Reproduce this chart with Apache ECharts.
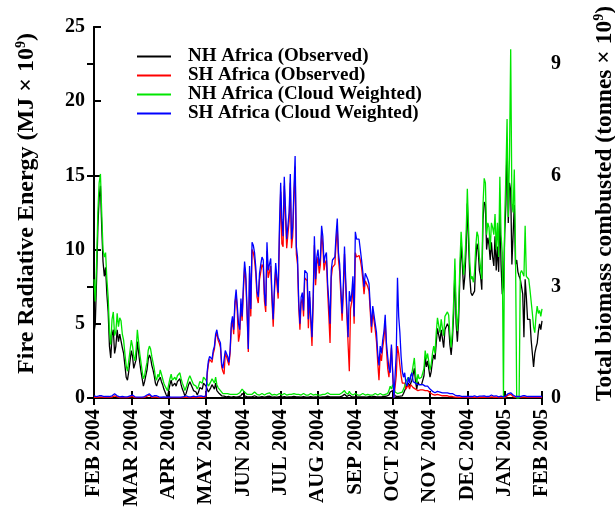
<!DOCTYPE html>
<html><head><meta charset="utf-8">
<script src="https://cdn.jsdelivr.net/npm/echarts@6/dist/echarts.min.js"></script>
<style>html,body{margin:0;padding:0;background:#fff}#c{width:615px;height:510px}</style>
</head><body><div id="c"></div>
<script>
// Daily values starting 1 Feb 2004 (index 0) through 1 Feb 2005 (index 366)
const tickLabels = ['FEB 2004','MAR 2004','APR 2004','MAY 2004','JUN 2004','JUL 2004','AUG 2004','SEP 2004','OCT 2004','NOV 2004','DEC 2004','JAN 2005','FEB 2005'];
const seriesNames = ['NH Africa (Observed)','SH Africa (Observed)','NH Africa (Cloud Weighted)','SH Africa (Cloud Weighted)'];

const nhObserved = [
4.4,5.0,8.0,11.5,13.5,14.3,11.5,9.2,8.2,8.8,
7.0,5.8,3.5,2.7,4.2,4.6,3.0,3.5,4.6,3.8,
4.3,4.2,3.4,3.0,2.2,1.4,1.2,1.8,2.5,3.2,
2.8,2.0,1.9,2.6,3.8,3.1,2.4,1.8,1.3,0.8,
1.1,1.5,1.9,2.6,2.9,2.7,2.2,1.9,1.5,1.0,
0.8,1.1,1.0,1.4,1.1,0.9,0.6,0.4,0.2,0.05,
0.5,0.9,1.2,0.8,0.7,1.0,0.8,1.1,1.0,1.3,
0.9,0.6,0.4,0.15,0.3,0.6,0.9,1.1,1.0,0.7,
0.5,0.6,0.4,0.2,0.4,0.7,0.8,0.6,1.0,1.1,
0.8,0.6,0.4,0.4,0.7,0.9,1.0,0.6,1.0,0.5,
0.4,0.3,0.2,0.15,0.1,0.12,0.1,0.08,0.1,0.1,
0.08,0.06,0.08,0.1,0.08,0.06,0.08,0.1,0.12,0.15,
0.3,0.35,0.15,0.1,0.08,0.06,0.08,0.1,0.08,0.1,
0.15,0.1,0.08,0.06,0.06,0.08,0.1,0.08,0.06,0.08,
0.1,0.08,0.12,0.1,0.06,0.06,0.08,0.1,0.06,0.08,
0.1,0.08,0.06,0.08,0.1,0.08,0.06,0.06,0.08,0.1,
0.08,0.06,0.1,0.12,0.08,0.06,0.08,0.06,0.06,0.08,
0.1,0.08,0.06,0.08,0.06,0.08,0.1,0.08,0.06,0.06,
0.08,0.1,0.06,0.08,0.06,0.06,0.08,0.1,0.08,0.06,
0.12,0.1,0.08,0.06,0.08,0.06,0.08,0.1,0.08,0.1,
0.08,0.1,0.12,0.2,0.25,0.12,0.1,0.08,0.2,0.1,
0.08,0.06,0.08,0.1,0.08,0.06,0.08,0.06,0.08,0.1,
0.08,0.06,0.06,0.08,0.1,0.06,0.08,0.06,0.1,0.1,
0.08,0.06,0.08,0.1,0.08,0.06,0.1,0.08,0.12,0.1,
0.2,0.4,0.3,0.5,0.6,0.15,0.1,0.1,0.1,0.12,
0.1,0.15,0.3,0.5,0.7,0.8,1.0,0.8,1.0,1.2,
1.1,2.0,1.1,0.6,1.1,0.9,1.0,0.9,0.9,1.5,
2.8,2.1,2.5,2.6,1.4,1.8,2.5,2.9,2.6,3.7,
4.7,4.6,3.8,4.6,4.0,3.4,4.6,4.8,5.0,4.8,
3.6,2.9,3.9,5.7,8.6,5.0,3.8,5.2,8.2,10.4,
9.0,7.3,8.2,10.0,13.1,10.5,8.2,7.1,6.9,6.9,
7.2,9.2,10.4,10.0,8.6,8.2,7.3,12.0,13.2,13.0,
10.0,10.8,10.3,9.3,10.5,9.5,8.9,10.9,8.6,10.2,
8.5,12.5,9.0,7.0,7.5,11.0,13.0,17.4,11.8,14.5,
14.0,9.0,11.0,13.0,9.0,9.3,8.5,8.2,8.0,7.5,
7.0,4.1,8.0,6.8,5.3,5.3,5.3,3.9,3.0,2.1,
3.0,3.4,3.7,4.5,5.0,4.6,5.2
];

const shObserved = [
0.05,0.05,0.04,0.05,0.06,0.1,0.06,0.04,0.04,0.05,
0.04,0.03,0.04,0.05,0.06,0.1,0.15,0.18,0.08,0.04,
0.03,0.03,0.04,0.04,0.03,0.02,0.03,0.04,0.08,0.15,
0.1,0.04,0.03,0.02,0.02,0.03,0.02,0.02,0.02,0.03,
0.04,0.06,0.12,0.22,0.2,0.08,0.04,0.05,0.06,0.1,
0.06,0.04,0.03,0.02,0.02,0.02,0.03,0.02,0.02,0.02,
0.03,0.04,0.02,0.02,0.02,0.03,0.02,0.02,0.02,0.02,
0.02,0.03,0.04,0.05,0.06,0.05,0.03,0.02,0.03,0.04,
0.05,0.04,0.03,0.04,0.05,0.04,0.06,0.05,0.04,0.05,
0.1,1.6,2.3,2.6,2.5,2.4,3.0,3.3,4.1,4.4,
3.9,3.7,3.4,2.1,1.8,1.6,3.0,2.8,2.5,2.2,
3.0,4.7,5.2,4.3,6.2,7.0,5.8,3.8,4.3,6.3,
5.2,7.1,8.8,7.9,5.6,3.1,8.4,5.5,10.0,9.8,
9.3,8.4,6.8,6.4,8.0,8.5,9.0,8.8,6.5,5.8,
9.9,8.1,8.5,8.9,6.6,4.8,7.1,8.6,8.6,6.7,
10.8,13.9,10.4,10.2,14.3,14.2,10.1,10.0,11.9,14.5,
10.1,10.9,13.4,15.6,9.7,9.0,6.1,4.6,6.4,6.7,
5.5,8.1,8.0,7.9,4.7,6.8,5.1,3.5,6.4,10.3,
7.6,9.0,9.5,8.4,9.0,11.0,10.3,8.6,9.1,9.3,
7.2,5.5,3.7,8.1,8.8,8.7,9.0,10.4,11.5,9.3,
8.5,8.4,5.2,7.0,9.7,7.5,5.5,3.6,1.8,6.0,
6.5,7.7,5.0,9.8,9.5,9.4,9.6,9.3,8.8,8.0,
7.0,7.9,7.9,7.5,7.2,5.8,4.4,5.8,5.8,4.6,
3.8,2.4,1.2,3.0,2.5,3.4,4.0,5.2,3.3,2.0,
1.4,1.3,3.4,3.4,0,0,1.5,3.5,3.0,2.2,
1.5,1.0,0.9,1.0,0.6,0.5,0.9,0.6,0.9,1.0,
0.7,0.7,0.6,0.7,0.5,0.6,0.55,0.5,0.55,0.5,
0.5,0.55,0.5,0.45,0.35,0.3,0.25,0.2,0.2,0.2,
0.25,0.2,0.2,0.15,0.15,0.2,0.15,0.12,0.15,0.1,
0.1,0.08,0.1,0.08,0.06,0.06,0.05,0.05,0.04,0.04,
0.04,0.05,0.04,0.03,0.04,0.05,0.04,0.03,0.04,0.05,
0.06,0.04,0.03,0.04,0.05,0.06,0.05,0.04,0.06,0.05,
0.04,0.03,0.04,0.06,0.08,0.06,0.05,0.08,0.06,0.04,
0.03,0.04,0.05,0.04,0.03,0.04,0.06,0.1,0.2,0.25,
0.25,0.2,0.1,0.05,0.04,0.03,0.04,0.05,0.04,0.05,
0.06,0.08,0.06,0.05,0.04,0.03,0.04,0.05,0.04,0.03,
0.04,0.05,0.04,0.03,0.04,0.03,0.04
];

const nhCloudWeighted = [
8.0,6.5,9.0,12.5,14.5,15.1,12.5,10.0,9.5,9.8,
8.0,6.8,4.5,3.6,5.3,5.8,4.2,4.5,5.7,4.8,
5.4,5.2,4.3,3.9,3.0,2.2,1.8,2.5,3.2,3.9,
3.5,2.8,2.5,3.3,4.6,3.8,3.0,2.4,1.8,1.3,
1.5,2.0,2.4,3.2,3.5,3.3,2.8,2.4,2.0,1.4,
1.2,1.6,1.4,1.9,1.6,1.3,1.0,0.8,0.7,0.5,
0.9,1.3,1.6,1.2,1.1,1.4,1.2,1.5,1.4,1.7,
1.3,1.0,0.8,0.5,0.7,1.0,1.3,1.5,1.4,1.1,
0.9,1.0,0.8,0.6,0.8,1.1,1.2,1.0,1.4,1.5,
1.2,1.0,0.8,0.8,1.1,1.3,1.4,1.0,1.4,0.9,
0.7,0.6,0.5,0.4,0.3,0.35,0.3,0.25,0.3,0.25,
0.25,0.2,0.25,0.3,0.25,0.2,0.25,0.3,0.35,0.4,
0.6,0.65,0.4,0.3,0.25,0.2,0.25,0.3,0.25,0.3,
0.4,0.3,0.25,0.2,0.2,0.25,0.3,0.25,0.2,0.25,
0.3,0.25,0.35,0.3,0.2,0.2,0.25,0.3,0.2,0.25,
0.3,0.25,0.2,0.25,0.3,0.25,0.2,0.2,0.25,0.3,
0.25,0.2,0.3,0.35,0.25,0.2,0.25,0.2,0.2,0.25,
0.3,0.25,0.2,0.25,0.2,0.25,0.3,0.25,0.2,0.2,
0.25,0.3,0.2,0.25,0.2,0.2,0.25,0.3,0.25,0.2,
0.35,0.3,0.25,0.2,0.25,0.2,0.25,0.3,0.25,0.3,
0.25,0.3,0.35,0.45,0.5,0.35,0.3,0.25,0.45,0.3,
0.25,0.2,0.25,0.3,0.25,0.2,0.25,0.2,0.25,0.3,
0.25,0.2,0.2,0.25,0.3,0.2,0.25,0.2,0.3,0.3,
0.25,0.2,0.25,0.3,0.25,0.2,0.3,0.25,0.35,0.3,
0.5,0.8,0.6,0.9,1.0,0.4,0.3,0.3,0.3,0.35,
0.3,0.4,0.6,0.8,1.1,1.2,1.4,1.2,1.5,1.7,
1.6,2.7,1.6,1.0,1.6,1.3,1.4,1.4,1.3,2.0,
3.2,2.6,3.0,3.1,1.9,2.3,3.0,3.5,3.0,4.4,
5.4,5.3,4.4,5.3,4.7,4.2,5.5,5.6,5.8,5.6,
4.3,3.4,4.5,6.5,9.4,6.0,4.5,6.0,9.0,11.2,
9.8,8.3,9.2,11.0,14.1,11.5,9.2,8.0,8.2,7.8,
8.5,10.2,11.2,10.9,9.5,8.8,8.0,13.0,14.8,14.5,
11.0,11.8,11.5,10.0,11.8,11.5,11.0,12.4,10.0,11.8,
9.5,14.9,11.0,9.8,0,12.0,15.0,18.8,12.2,16.3,
23.5,13.1,12.5,15.4,9.8,0,0,0,8.4,8.6,
8.4,8.2,11.6,8.2,8.2,8.0,7.3,6.5,5.7,4.8,
4.4,5.5,6.2,5.7,5.9,5.5,6.0
];

const shCloudWeighted = [
0.15,0.12,0.1,0.12,0.15,0.2,0.15,0.1,0.1,0.12,
0.1,0.08,0.1,0.12,0.15,0.2,0.28,0.3,0.15,0.1,
0.08,0.08,0.1,0.1,0.08,0.06,0.08,0.1,0.15,0.25,
0.2,0.1,0.08,0.06,0.06,0.08,0.06,0.05,0.06,0.08,
0.1,0.12,0.2,0.3,0.28,0.15,0.1,0.12,0.15,0.2,
0.15,0.1,0.08,0.06,0.05,0.06,0.08,0.06,0.05,0.06,
0.08,0.1,0.06,0.05,0.06,0.08,0.06,0.05,0.06,0.05,
0.06,0.08,0.1,0.12,0.15,0.12,0.08,0.06,0.08,0.1,
0.12,0.1,0.08,0.1,0.12,0.1,0.15,0.12,0.1,0.12,
0.15,1.8,2.5,2.8,2.7,2.6,3.2,3.5,4.3,4.6,
4.1,4.0,3.7,2.3,2.0,1.9,3.2,3.0,2.8,2.4,
3.2,5.0,5.5,4.6,6.5,7.3,6.2,5.0,4.6,6.7,
5.5,7.5,9.2,8.3,6.0,3.3,8.9,6.0,10.5,10.3,
9.8,8.8,7.2,6.8,8.4,9.0,9.5,9.3,7.0,6.2,
10.5,8.6,9.0,9.4,7.0,5.3,7.5,9.1,9.1,7.1,
11.5,14.5,12.0,10.9,14.9,14.9,10.7,10.7,12.5,15.1,
10.7,11.5,14.0,16.3,10.2,9.5,6.5,5.0,6.8,7.1,
5.9,8.6,8.5,8.4,5.3,7.2,5.5,4.1,6.8,10.9,
8.0,9.5,10.0,8.9,9.5,11.6,10.9,9.1,9.6,9.8,
7.7,6.5,5.0,8.6,9.3,9.2,9.5,11.0,12.1,9.8,
9.0,8.9,5.7,7.5,10.2,8.0,6.0,4.1,7.2,6.5,
7.0,8.2,5.5,11.2,10.7,10.6,10.7,10.0,9.3,8.5,
7.5,8.4,8.4,8.0,7.7,6.2,4.8,6.2,6.3,5.0,
4.4,3.0,2.2,3.5,3.0,3.9,4.5,5.6,3.7,2.8,
2.0,1.7,3.6,3.6,0,0,3.0,8.1,5.5,4.4,
2.8,1.8,1.4,1.7,1.0,0.8,1.4,1.0,1.5,1.7,
1.1,1.2,1.0,1.1,0.9,1.0,0.9,0.8,0.9,0.8,
0.8,0.9,0.8,0.7,0.6,0.5,0.45,0.4,0.35,0.4,
0.45,0.4,0.4,0.35,0.35,0.4,0.35,0.3,0.35,0.3,
0.3,0.25,0.3,0.25,0.2,0.2,0.15,0.2,0.15,0.12,
0.1,0.12,0.1,0.08,0.1,0.12,0.1,0.08,0.1,0.12,
0.15,0.1,0.08,0.1,0.12,0.15,0.12,0.1,0.15,0.12,
0.1,0.08,0.1,0.15,0.2,0.15,0.12,0.2,0.15,0.1,
0.08,0.1,0.12,0.1,0.08,0.1,0.15,0.2,0.3,0.35,
0.35,0.3,0.2,0.12,0.1,0.08,0.1,0.12,0.1,0.12,
0.15,0.2,0.15,0.12,0.1,0.08,0.1,0.12,0.1,0.08,
0.1,0.12,0.1,0.08,0.1,0.08,0.1
];

// position on a month-uniform axis (0 = 1 Feb 2004, 12 = 1 Feb 2005)
function monthPos(dayIndex) {
  const dt = new Date(Date.UTC(2004, 1, 1 + dayIndex));
  const y = dt.getUTCFullYear(), m = dt.getUTCMonth(), d = dt.getUTCDate();
  const dim = new Date(Date.UTC(y, m + 1, 0)).getUTCDate();
  return (y - 2004) * 12 + m - 1 + (d - 1) / dim;
}
const toPairs = arr => arr.map((v, i) => [monthPos(i), v]);

const FONT = '"Liberation Serif","Times New Roman",serif';
const frame = { show: true, lineStyle: { color: '#000', width: 2 } };
const ticks = { show: true, inside: true, length: 7, lineStyle: { color: '#000', width: 2 } };
const supStyle = { fontFamily: FONT, fontWeight: 'bold', fontSize: 14, color: '#000', verticalAlign: 'top', lineHeight: 14 };

const chart = echarts.init(document.getElementById('c'), null, { renderer: 'canvas' });
chart.setOption({
  animation: false,
  backgroundColor: '#fff',
  grid: { left: 94, right: 73, top: 27, bottom: 112, outerBoundsMode: 'none' },
  legend: {
    orient: 'vertical', left: 137, top: 47, padding: 0,
    itemWidth: 34, itemHeight: 2, itemGap: 0, icon: 'rect',
    data: seriesNames,
    textStyle: { fontFamily: FONT, fontWeight: 'bold', fontSize: 19, color: '#000', lineHeight: 16.7, padding: [0, 0, 0, 12] }
  },
  xAxis: [
    { type: 'value', min: 0, max: 12, interval: 1, position: 'bottom',
      axisLine: frame, axisTick: ticks, splitLine: { show: false },
      axisLabel: { rotate: 90, margin: 11, fontFamily: FONT, fontWeight: 'bold', fontSize: 21, color: '#000',
        formatter: v => tickLabels[Math.round(v)] } },
    { type: 'value', min: 0, max: 12, interval: 1, position: 'top',
      axisLine: frame, axisTick: ticks, splitLine: { show: false }, axisLabel: { show: false } }
  ],
  yAxis: [
    { type: 'value', min: 0, max: 25, interval: 5, position: 'left',
      axisLine: frame, axisTick: ticks, splitLine: { show: false },
      axisLabel: { margin: 9, fontFamily: FONT, fontWeight: 'bold', fontSize: 20, color: '#000' },
      name: 'Fire Radiative Energy (MJ × 10{sup|9})', nameLocation: 'middle', nameRotate: 90, nameGap: 54,
      nameTextStyle: { fontFamily: FONT, fontWeight: 'bold', fontSize: 24, color: '#000', lineHeight: 26, padding: [0, 0, 0, 18], rich: { sup: supStyle } } },
    { type: 'value', min: 0, max: 10, interval: 3, position: 'right',
      axisLine: frame, axisTick: ticks, splitLine: { show: false },
      axisLabel: { margin: 9, showMaxLabel: false, fontFamily: FONT, fontWeight: 'bold', fontSize: 20, color: '#000' },
      name: 'Total biomass combusted (tonnes × 10{sup|9})', nameLocation: 'middle', nameRotate: 90, nameGap: 50,
      nameTextStyle: { fontFamily: FONT, fontWeight: 'bold', fontSize: 23.5, color: '#000', lineHeight: 26, padding: [0, 0, 0, 18], rich: { sup: supStyle } } }
  ],
  series: [
    { name: seriesNames[0], type: 'line', data: toPairs(nhObserved), color: '#000000' },
    { name: seriesNames[1], type: 'line', data: toPairs(shObserved), color: '#ff0000' },
    { name: seriesNames[2], type: 'line', data: toPairs(nhCloudWeighted), color: '#00e600' },
    { name: seriesNames[3], type: 'line', data: toPairs(shCloudWeighted), color: '#0000ff' }
  ].map(s => Object.assign(s, { xAxisIndex: 0, yAxisIndex: 0, symbol: 'none', showSymbol: false,
      lineStyle: { width: 1.3, color: s.color }, itemStyle: { color: s.color }, emphasis: { disabled: true } }))
});
</script></body></html>
